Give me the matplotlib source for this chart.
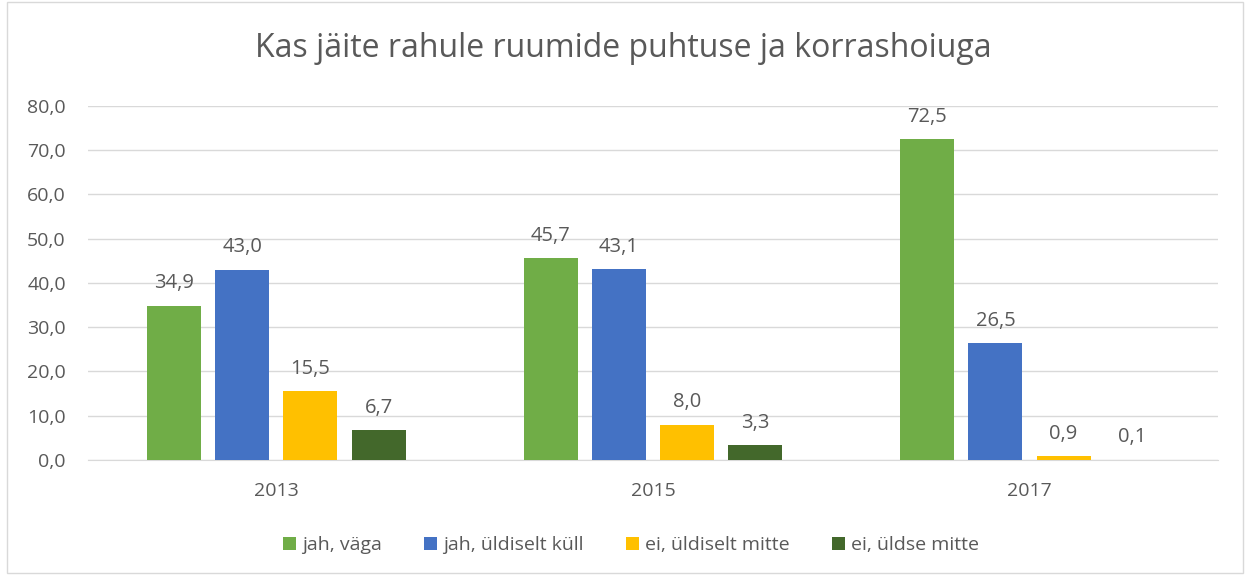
import numpy as np
import matplotlib.pyplot as plt
from matplotlib.patches import Rectangle

# Data
years = ['2013', '2015', '2017']
series_names = ['jah, väga', 'jah, üldiselt küll', 'ei, üldiselt mitte', 'ei, üldse mitte']
jah_vaga = [34.9, 45.7, 72.5]
jah_uldiselt = [43.0, 43.1, 26.5]
ei_uldiselt = [15.5, 8.0, 0.9]
ei_uldse = [6.7, 3.3, 0.1]

colors = ['#70AD47', '#4472C4', '#FFC000', '#43682B']
text_col = '#595959'

plt.rcParams['font.family'] = ['Open Sans', 'DejaVu Sans']

fig = plt.figure(figsize=(12.47, 5.75), dpi=100)
ax = fig.add_axes([0.0706, 0.2, 0.906, 0.6157])

# Chart border
fig.patches.append(Rectangle((0.006, 0.003), 0.991, 0.994, transform=fig.transFigure,
                             fill=False, edgecolor='#D9D9D9', linewidth=1))

x = np.arange(len(years))
pitch = 0.181
width = 0.1436
all_series = [jah_vaga, jah_uldiselt, ei_uldiselt, ei_uldse]
for i, vals in enumerate(all_series):
    pos = x + (i - 1.5) * pitch
    bars = ax.bar(pos, vals, width, color=colors[i], label=series_names[i], zorder=3)
    for b, v in zip(bars, vals):
        ax.annotate(f'{v:.1f}'.replace('.', ','), (b.get_x() + b.get_width() / 2, v),
                    xytext=(0, 16), textcoords='offset points',
                    ha='center', va='center', fontsize=14.5, color=text_col)

ax.set_xlim(-0.5, 2.5)
ax.set_ylim(0, 80)
ax.set_yticks(np.arange(0, 81, 10))
ax.set_yticklabels([f'{t:.1f}'.replace('.', ',') for t in np.arange(0, 81, 10)])
ax.set_xticks(x)
ax.set_xticklabels(years)
ax.yaxis.grid(True, color='#D9D9D9', linewidth=1, zorder=0)
for s in ['top', 'right', 'left']:
    ax.spines[s].set_visible(False)
ax.spines['bottom'].set_color('#D9D9D9')
ax.tick_params(axis='both', length=0, labelsize=14, colors=text_col)
ax.tick_params(axis='y', pad=16)
ax.tick_params(axis='x', pad=16)

fig.text(0.5, 0.915, 'Kas jäite rahule ruumide puhtuse ja korrashoiuga', ha='center', va='center',
         fontsize=23, color=text_col)

leg = fig.legend(loc='center', bbox_to_anchor=(0.506, 0.052), ncol=4, frameon=False,
                 fontsize=14, handlelength=0.65, handleheight=0.65, handletextpad=0.3,
                 columnspacing=2.2)
for t in leg.get_texts():
    t.set_color(text_col)

fig.savefig('out.png', dpi=100)
